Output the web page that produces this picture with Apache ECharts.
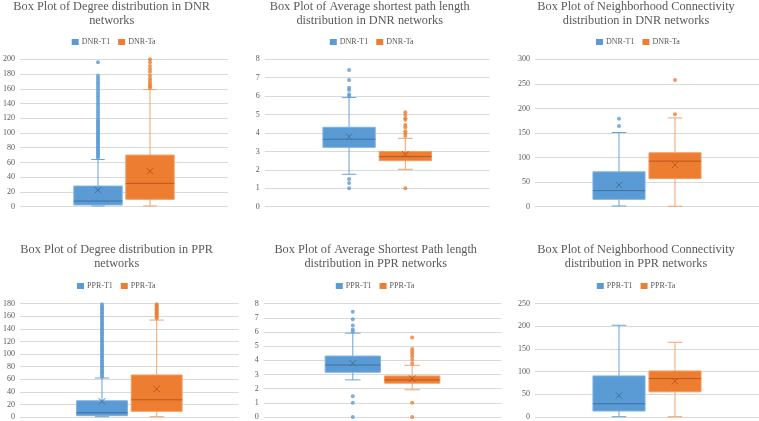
<!DOCTYPE html>
<html>
<head>
<meta charset="utf-8">
<script src="https://cdn.jsdelivr.net/npm/echarts@6/dist/echarts.min.js"></script>
<style>html,body{margin:0;padding:0;background:#fff}#c{width:759px;height:421px}</style>
</head>
<body>
<div id="c"></div>
<script>
// ---- data ----
const categories = ['', 'T1', 'Ta', ''];
const titles = [
  'Box Plot of Degree distribution in DNR\nnetworks',
  'Box Plot of Average shortest path length\ndistribution in DNR networks',
  'Box Plot of Neighborhood Connectivity\ndistribution in DNR networks',
  'Box Plot of Degree distribution in PPR\nnetworks',
  'Box Plot of Average Shortest Path length\ndistribution in PPR networks',
  'Box Plot of Neighborhood Connectivity\ndistribution in PPR networks'
];
const seriesNamesDNR = ['DNR-T1', 'DNR-Ta'];
const seriesNamesPPR = ['PPR-T1', 'PPR-Ta'];
const yMax = [200, 8, 300, 180, 8, 250];
const yInterval = [20, 1, 50, 20, 1, 50];

// box stats: [min whisker, Q1, median, Q3, max whisker]
const dnrDegT1 = [1, 2.3, 7.7, 28, 64];
const dnrDegT1Mean = 22.6;
const dnrDegT1Out = [66,68,70,72,74,76,78,80,82,84,86,88,90,92,94,96,98,100,102,104,106,108,110,112,114,116,118,121,124,127,130,133,136,139,142,145,148,151,154,157,160,163,166,169,172,175,178,196];
const dnrDegTa = [1, 10, 31.7, 70, 159];
const dnrDegTaMean = 48;
const dnrDegTaOut = [161,163,165,168,171,174,178,183,187,191,196,200];

const dnrAsplT1 = [1.76, 3.22, 3.66, 4.31, 5.92];
const dnrAsplT1Mean = 3.8;
const dnrAsplT1Out = [7.42, 6.88, 6.46, 6.33, 6.1, 5.99, 1.5, 1.29, 1.0];
const dnrAsplTa = [2.03, 2.5, 2.72, 2.99, 3.71];
const dnrAsplTaMean = 2.84;
const dnrAsplTaOut = [5.12, 4.98, 4.8, 4.72, 4.43, 4.31, 4.1, 3.98, 3.84, 1.0];

const dnrNcT1 = [1.4, 15, 32.7, 70.9, 151];
const dnrNcT1Mean = 44.3;
const dnrNcT1Out = [164, 179];
const dnrNcTa = [1, 57.3, 92.7, 109.8, 180.7];
const dnrNcTaMean = 85.2;
const dnrNcTaOut = [188, 258];

const pprDegT1 = [0.5, 2.1, 6.8, 25.8, 62];
const pprDegT1Mean = 24.7;
const pprDegT1Out = [64,66,69,71,74,76,79,81,84,86,89,91,94,96,99,101,104,106,109,111,114,116,119,121,124,126,129,131,134,136,139,141,144,146,149,151,154,156,159,161,164,166,169,171,174,176,179];
const pprDegTa = [0.5, 9, 27.4, 66.8, 154];
const pprDegTaMean = 44.7;
const pprDegTaOut = [157,159,161,163,165,167,169,171,173,175,177,179];

const pprAsplT1 = [2.62, 3.16, 3.67, 4.3, 5.92];
const pprAsplT1Mean = 3.79;
const pprAsplT1Out = [7.44, 6.9, 6.46, 6.18, 6.03, 1.47, 1.0, 0];
const pprAsplTa = [1.92, 2.39, 2.62, 2.9, 3.65];
const pprAsplTaMean = 2.71;
const pprAsplTaOut = [5.61, 4.8, 4.63, 4.44, 4.28, 4.05, 3.77, 1.0, 0];

const pprNcT1 = [0.7, 13.2, 29.2, 90.6, 202.5];
const pprNcT1Mean = 47.5;
const pprNcT1Out = [];
const pprNcTa = [0.7, 55.6, 84.8, 101.6, 165];
const pprNcTaMean = 79;
const pprNcTaOut = [];

// ---- layout / style ----
const panels = [
  {names: seriesNamesDNR, t1: [dnrDegT1, dnrDegT1Mean, dnrDegT1Out], ta: [dnrDegTa, dnrDegTaMean, dnrDegTaOut]},
  {names: seriesNamesDNR, t1: [dnrAsplT1, dnrAsplT1Mean, dnrAsplT1Out], ta: [dnrAsplTa, dnrAsplTaMean, dnrAsplTaOut]},
  {names: seriesNamesDNR, t1: [dnrNcT1, dnrNcT1Mean, dnrNcT1Out], ta: [dnrNcTa, dnrNcTaMean, dnrNcTaOut]},
  {names: seriesNamesPPR, t1: [pprDegT1, pprDegT1Mean, pprDegT1Out], ta: [pprDegTa, pprDegTaMean, pprDegTaOut]},
  {names: seriesNamesPPR, t1: [pprAsplT1, pprAsplT1Mean, pprAsplT1Out], ta: [pprAsplTa, pprAsplTaMean, pprAsplTaOut]},
  {names: seriesNamesPPR, t1: [pprNcT1, pprNcT1Mean, pprNcT1Out], ta: [pprNcTa, pprNcTaMean, pprNcTaOut]}
];
const grids = [
  {left: 17, top: 59.3, width: 211, height: 147.4},
  {left: 264.7, top: 59.3, width: 225, height: 147.4},
  {left: 535, top: 59.3, width: 224, height: 147.4},
  {left: 17.3, top: 303.7, width: 221.4, height: 114},
  {left: 263.7, top: 303.7, width: 237.6, height: 114},
  {left: 535, top: 303.7, width: 224, height: 114}
];
const titleCx = [111.7, 369.7, 636, 116.7, 375.7, 636];
const titleTop = [-0.5, -0.5, -0.5, 242.5, 242.5, 242.5];
const legendCx = [112.7, 370.8, 637, 118, 376.8, 637.8];
const legendTop = [38, 38, 38, 282, 282, 282];

const FONT = '"Liberation Serif", "Times New Roman", serif';
const TXT = '#595959';
const styles = [
  {fill: '#5b9bd5', border: '#7eb0e0', dark: '#41719c', whisker: '#6aa3d9'},
  {fill: '#ed7d31', border: '#f29c63', dark: '#b9581a', whisker: '#f2a26e'}
];

function makeRender(st) {
  return function (params, api) {
    const x = api.value(0);
    const v = [1, 2, 3, 4, 5].map(i => api.coord([x, api.value(i)]));
    const pm = api.coord([x, api.value(6)]);
    const band = api.size([1, 0])[0];
    const bw = band * 0.93;
    const cap = bw * 0.28;
    const cx = v[0][0];
    const yMin = v[0][1], yQ1 = v[1][1], yMed = v[2][1], yQ3 = v[3][1], yMx = v[4][1];
    const ms = 3.2;
    const line = (x1, y1, x2, y2, c, w) => ({type: 'line', shape: {x1, y1, x2, y2}, style: {stroke: c, lineWidth: w || 1}});
    return {
      type: 'group',
      children: [
        line(cx, yQ3, cx, yMx, st.whisker),
        line(cx, yQ1, cx, yMin, st.whisker),
        line(cx - cap / 2, yMx, cx + cap / 2, yMx, st.whisker),
        line(cx - cap / 2, yMin, cx + cap / 2, yMin, st.whisker),
        {type: 'rect', shape: {x: cx - bw / 2, y: yQ3, width: bw, height: yQ1 - yQ3}, style: {fill: st.fill, stroke: st.border, lineWidth: 1}},
        line(cx - bw / 2, yMed, cx + bw / 2, yMed, st.dark),
        line(pm[0] - ms, pm[1] - ms, pm[0] + ms, pm[1] + ms, st.dark),
        line(pm[0] - ms, pm[1] + ms, pm[0] + ms, pm[1] - ms, st.dark)
      ]
    };
  };
}

const option = {
  animation: false,
  backgroundColor: '#fff',
  textStyle: {fontFamily: FONT},
  title: titles.map((t, i) => ({
    text: t, left: titleCx[i], top: titleTop[i], textAlign: 'center', padding: 0,
    textStyle: {fontFamily: FONT, fontSize: 12.3, fontWeight: 'normal', color: TXT, lineHeight: 14.3}
  })),
  legend: panels.map((p, i) => ({
    data: p.names, left: legendCx[i] - 41, top: legendTop[i], icon: 'rect',
    itemWidth: 7, itemHeight: 6, itemGap: 8, padding: 0,
    textStyle: {fontFamily: FONT, fontSize: 8, color: TXT, padding: [0, 0, 0, -2]},
    selectedMode: false
  })),
  grid: grids.map(g => Object.assign({containLabel: false}, g)),
  xAxis: grids.map((g, i) => ({
    type: 'category', gridIndex: i, data: categories,
    axisLine: {show: false}, axisTick: {show: false}, axisLabel: {show: false}, splitLine: {show: false}
  })),
  yAxis: grids.map((g, i) => ({
    type: 'value', gridIndex: i, min: 0, max: yMax[i], interval: yInterval[i],
    axisLine: {show: false}, axisTick: {show: false},
    axisLabel: {fontFamily: FONT, fontSize: 8, color: TXT, margin: 5},
    splitLine: {lineStyle: {color: '#d9d9d9', width: 1}}
  })),
  series: []
};

panels.forEach((p, i) => {
  [p.t1, p.ta].forEach((d, k) => {
    const st = styles[k];
    const xi = k + 1;
    option.series.push({
      type: 'custom', name: p.names[k], xAxisIndex: i, yAxisIndex: i,
      itemStyle: {color: st.fill},
      renderItem: makeRender(st),
      encode: {x: 0, y: [1, 2, 3, 4, 5, 6]},
      data: [[xi].concat(d[0], [d[1]])],
      clip: false
    });
    option.series.push({
      type: 'scatter', name: p.names[k], xAxisIndex: i, yAxisIndex: i,
      symbolSize: 4, itemStyle: {color: st.fill},
      data: d[2].map(v => [xi, v]),
      clip: false
    });
  });
});

const chart = echarts.init(document.getElementById('c'), null, {renderer: 'canvas'});
chart.setOption(option);
</script>
</body>
</html>
